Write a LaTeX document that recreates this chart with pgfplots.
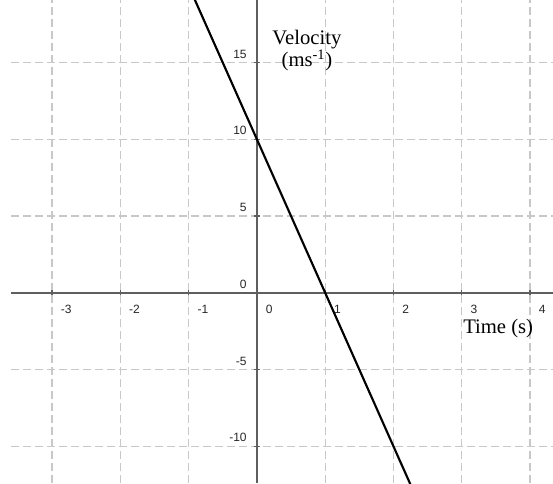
\documentclass[border=0pt]{standalone}
\usepackage{pgfplots}
\pgfplotsset{compat=1.18}
\usepackage{fontspec}
\setmainfont{Liberation Serif}
\newfontfamily\ticksans{Liberation Sans}
\definecolor{axisgrey}{RGB}{95,95,95}
\definecolor{gridgrey}{RGB}{200,200,200}

\begin{document}
\begin{tikzpicture}
\begin{axis}[
    scale only axis,
    width=406.5pt, height=362.25pt,
    xmin=-3.60, xmax=4.336,
    ymin=-12.39, ymax=19.07,
    axis lines=middle,
    axis line style={-, axisgrey, line width=1.6pt},
    hide obscured x ticks=false,
    hide obscured y ticks=false,
    xtick={-3,-2,-1,0,1,2,3,4},
    xticklabels={-3,-2,-1,0,1,2,3,4},
    ytick={-10,-5,0,5,10,15},
    yticklabels={-10,-5,0,5,10,15},
    tick align=center,
    major tick length=4pt,
    tick style={axisgrey, line width=0.9pt},
    grid=major,
    grid style={gridgrey, line width=0.9pt, dash pattern=on 6pt off 3pt},
    xticklabel style={font=\ticksans\fontsize{9}{10}\selectfont, text=black!85, anchor=north west, inner sep=0pt, xshift=6.5pt, yshift=-6.8pt},
    yticklabel style={font=\ticksans\fontsize{9}{10}\selectfont, text=black!85, anchor=south east, inner sep=0pt, xshift=-5.5pt, yshift=3pt},
    clip=true,
]
\addplot[black, line width=1.6pt] coordinates {(-1,20) (2.3,-13)};
\node[font=\fontsize{15.5}{18}\selectfont, anchor=base, inner sep=0pt] at (axis cs:0.733,16.14) {Velocity};
\node[font=\fontsize{15.5}{18}\selectfont, anchor=base, inner sep=0pt] at (axis cs:0.733,14.71) {(ms\textsuperscript{-1})};
\node[font=\fontsize{15.5}{18}\selectfont, anchor=base west, inner sep=0pt] at (axis cs:3.018,-2.62) {Time (s)};
\coordinate (ll) at (rel axis cs:0,0);
\coordinate (ur) at (rel axis cs:1,1);
\end{axis}
\pgfresetboundingbox
\path ([xshift=-8.25pt]ll) rectangle (ur);
\end{tikzpicture}
\end{document}
